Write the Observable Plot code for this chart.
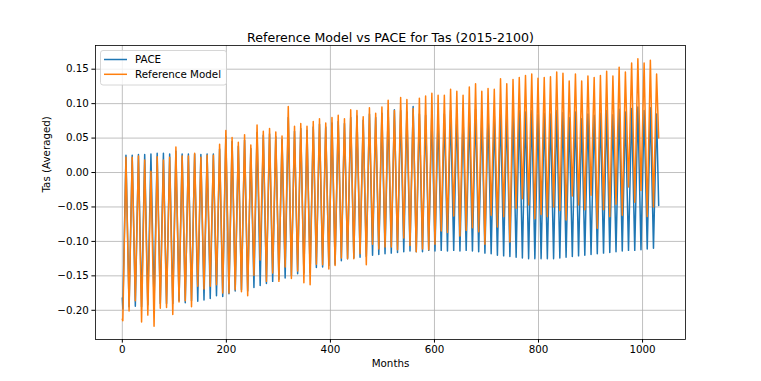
<!DOCTYPE html>
<html><head><meta charset="utf-8">
<script src="https://cdn.jsdelivr.net/npm/d3@7"></script>
<script src="https://cdn.jsdelivr.net/npm/@observablehq/plot@0.6"></script>
<style>
body{margin:0;background:#fff;}
#chart{width:761px;height:381px;}
svg{font-family:"DejaVu Sans",sans-serif;}
</style></head><body><div id="chart"></div>
<script>
// ---- data ----
const titleText = "Reference Model vs PACE for Tas (2015-2100)";
const xLabel = "Months";
const yLabel = "Tas (Averaged)";
const seriesNames = ["PACE", "Reference Model"];
const xTicks = [0, 200, 400, 600, 800, 1000];
const yTicks = [-0.20, -0.15, -0.10, -0.05, 0.00, 0.05, 0.10, 0.15];
const lastMonth = 1031;

// yearly minimum (Feb) and maximum (Aug) values, one per year 2015..2100
const paceTroughs = [-0.198,-0.195,-0.194,-0.195,-0.192,-0.190,-0.190,-0.190,-0.190,-0.186,
 -0.189,-0.186,-0.187,-0.185,-0.183,-0.179,-0.180,-0.176,-0.172,-0.170,
 -0.172,-0.167,-0.164,-0.161,-0.158,-0.155,-0.153,-0.150,-0.147,-0.146,
 -0.145,-0.138,-0.137,-0.135,-0.133,-0.128,-0.125,-0.124,-0.123,-0.122,
 -0.120,-0.119,-0.118,-0.117,-0.116,-0.115,-0.114,-0.115,-0.115,-0.113,
 -0.114,-0.113,-0.114,-0.113,-0.114,-0.113,-0.114,-0.115,-0.117,-0.118,
 -0.120,-0.121,-0.122,-0.123,-0.124,-0.125,-0.125,-0.125,-0.125,-0.125,
 -0.124,-0.123,-0.122,-0.121,-0.120,-0.119,-0.118,-0.117,-0.116,-0.115,
 -0.114,-0.113,-0.113,-0.112,-0.111,-0.110];
const pacePeaks = [0.025,0.025,0.026,0.026,0.027,0.028,0.028,0.027,0.031,0.027,
 0.027,0.027,0.026,0.027,0.027,0.034,0.052,0.045,0.038,0.047,
 0.035,0.058,0.054,0.056,0.052,0.048,0.080,0.060,0.064,0.061,
 0.066,0.070,0.066,0.072,0.074,0.071,0.080,0.082,0.076,0.085,
 0.080,0.086,0.090,0.091,0.090,0.088,0.096,0.085,0.083,0.088,
 0.082,0.085,0.090,0.088,0.080,0.087,0.092,0.084,0.086,0.082,
 0.090,0.088,0.086,0.090,0.088,0.090,0.084,0.086,0.085,0.090,
 0.087,0.080,0.088,0.078,0.085,0.083,0.086,0.090,0.084,0.092,
 0.088,0.093,0.095,0.090,0.094,0.085];
const refTroughs = [-0.215,-0.201,-0.186,-0.217,-0.207,-0.223,-0.197,-0.196,-0.206,-0.188,
 -0.186,-0.195,-0.165,-0.169,-0.165,-0.163,-0.175,-0.175,-0.170,-0.173,
 -0.179,-0.149,-0.127,-0.158,-0.146,-0.158,-0.137,-0.154,-0.143,-0.160,
 -0.163,-0.133,-0.134,-0.140,-0.135,-0.124,-0.125,-0.125,-0.118,-0.134,
 -0.104,-0.111,-0.108,-0.108,-0.112,-0.095,-0.106,-0.115,-0.111,-0.112,
 -0.104,-0.085,-0.087,-0.063,-0.092,-0.084,-0.080,-0.086,-0.104,-0.062,
 -0.079,-0.064,-0.101,-0.052,-0.038,-0.047,-0.067,-0.061,-0.064,-0.050,
 -0.055,-0.069,-0.034,-0.047,-0.054,-0.033,-0.081,-0.054,-0.064,-0.046,
 -0.062,-0.021,-0.043,-0.026,-0.064,-0.050];
const refPeaks = [0.022,0.022,0.024,0.018,0.002,0.023,0.018,0.022,0.037,0.024,
 0.024,0.028,0.022,0.025,0.025,0.041,0.061,0.051,0.044,0.055,
 0.040,0.069,0.060,0.064,0.059,0.053,0.096,0.067,0.071,0.067,
 0.074,0.078,0.072,0.080,0.083,0.078,0.091,0.090,0.081,0.094,
 0.086,0.095,0.105,0.090,0.109,0.106,0.093,0.108,0.111,0.115,
 0.112,0.112,0.121,0.118,0.112,0.124,0.129,0.118,0.122,0.121,
 0.136,0.129,0.135,0.138,0.141,0.143,0.137,0.138,0.139,0.146,
 0.144,0.133,0.143,0.133,0.140,0.138,0.141,0.147,0.140,0.153,
 0.146,0.159,0.165,0.159,0.163,0.143];
const startValues = [-0.182, -0.213];   // month 0
const endValues = [-0.048, 0.050];      // month 1031
const colors = ["#1f77b4", "#ff7f0e"];

// ---- build tables ----
function buildSeries(name, start, troughs, peaks, end) {
  const pts = [{series: name, month: 0, value: start}];
  troughs.forEach((t, k) => {
    pts.push({series: name, month: 12 * k + 1, value: t});
    pts.push({series: name, month: 12 * k + 7, value: peaks[k]});
  });
  pts.push({series: name, month: lastMonth, value: end});
  return pts;
}
const pace = buildSeries(seriesNames[0], startValues[0], paceTroughs, pacePeaks, endValues[0]);
const ref = buildSeries(seriesNames[1], startValues[1], refTroughs, refPeaks, endValues[1]);
const all = pace.concat(ref);

function padded(ext) { const r = ext[1] - ext[0]; return [ext[0] - 0.05 * r, ext[1] + 0.05 * r]; }
const xDomain = padded(d3.extent(all, d => d.month));
const yDomain = padded(d3.extent(all, d => d.value));

const W = 761, H = 381;
const font = "DejaVu Sans, sans-serif";
const svg = Plot.plot({
  width: W, height: H,
  marginLeft: 95, marginRight: 76, marginTop: 45, marginBottom: 42,
  style: {fontFamily: font, fontSize: "10.3px", color: "black", background: "white"},
  x: {domain: xDomain},
  y: {domain: yDomain},
  marks: [
    Plot.gridX(xTicks, {stroke: "#b0b0b0", strokeOpacity: 1, strokeWidth: 0.8}),
    Plot.gridY(yTicks, {stroke: "#b0b0b0", strokeOpacity: 1, strokeWidth: 0.8}),
    Plot.line(pace, {x: "month", y: "value", stroke: colors[0], strokeWidth: 1.5}),
    Plot.line(ref, {x: "month", y: "value", stroke: colors[1], strokeWidth: 1.5}),
    Plot.frame({stroke: "black", strokeWidth: 0.8}),
    Plot.axisX(xTicks, {tickSize: 3.6, tickPadding: 3, label: null, fontSize: 10.3, tickFormat: d3.format("d")}),
    Plot.axisY(yTicks, {tickSize: 3.6, tickPadding: 3, label: null, fontSize: 10.3, tickFormat: d3.format(".2f")}),
    Plot.text([titleText], {text: d => d, frameAnchor: "top", dy: -12, fontSize: 12.6}),
    Plot.text([xLabel], {text: d => d, frameAnchor: "bottom", dy: 27.5, fontSize: 10.3}),
    Plot.text([yLabel], {text: d => d, frameAnchor: "left", dx: -49, rotate: -90, fontSize: 10.3})
  ]
});

// legend (upper left, matplotlib style)
const lg = d3.select(svg).append("g").attr("font-family", font).attr("font-size", 10.3)
  .attr("text-anchor", "start");
lg.append("rect").attr("x", 100.5).attr("y", 50.5).attr("width", 126).attr("height", 34.5)
  .attr("rx", 2.5).attr("fill", "white").attr("fill-opacity", 0.8)
  .attr("stroke", "#cccccc").attr("stroke-width", 0.8);
seriesNames.forEach((name, i) => {
  const y = 59.5 + i * 14.8;
  lg.append("line").attr("x1", 104).attr("x2", 127).attr("y1", y).attr("y2", y)
    .attr("stroke", colors[i]).attr("stroke-width", 1.5);
  lg.append("text").attr("x", 135).attr("y", y).attr("dy", "0.35em")
    .attr("text-anchor", "start").attr("fill", "black").text(name);
});

document.getElementById("chart").appendChild(svg);
</script></body></html>
